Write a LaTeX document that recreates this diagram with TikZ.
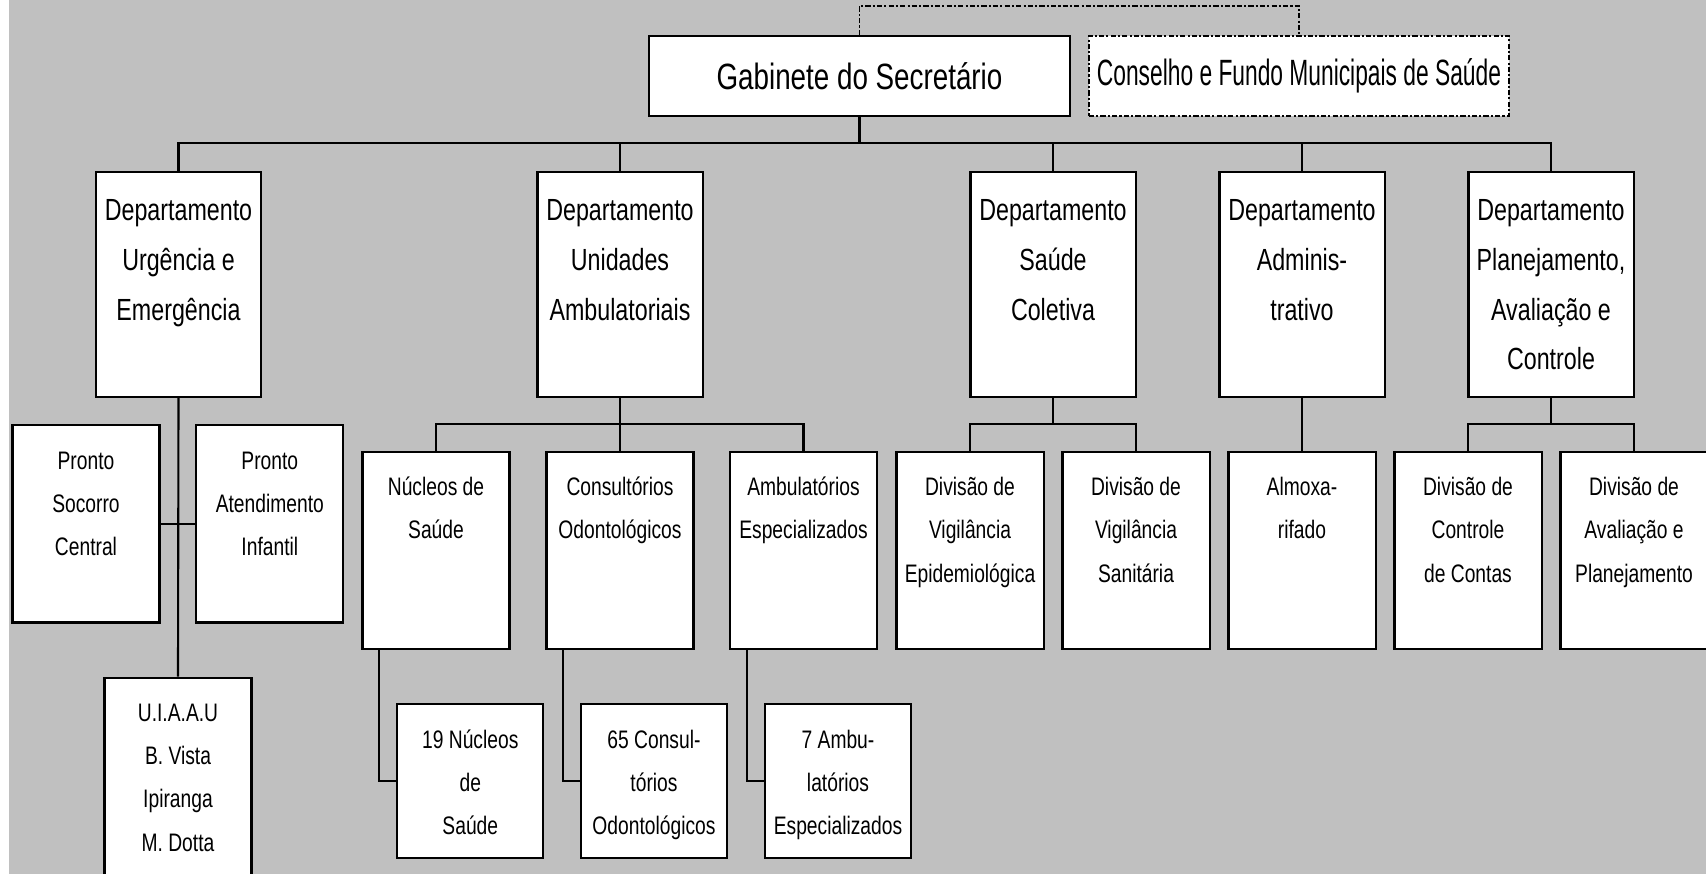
\documentclass[tikz,border=0pt]{standalone}
\usepackage{fontspec}
\setmainfont{Liberation Sans}[FakeStretch=0.76]

\definecolor{bggray}{RGB}{192,192,192}

% text inside the boxes sits at the top
\newcommand{\depttext}[1]{\parbox[c][2.25cm][t]{1.65cm}{\centering\rule{0pt}{13.8pt}#1}}
\newcommand{\subtext}[1]{\parbox[c][1.97cm][t]{1.47cm}{\centering\rule{0pt}{12.4pt}#1}}
\newcommand{\lowtext}[1]{\parbox[c][1.534cm][t]{1.46cm}{\centering\rule{0pt}{12.5pt}#1}}

\tikzset{
	box/.style={draw, fill=white, line width=0.6pt, inner sep=0pt},
	topbox/.style={box, minimum width=4.21cm, minimum height=0.8cm, font=\fontsize{10.4}{12}\selectfont},
	deptbox/.style={box, font=\fontsize{8.7}{14.2}\selectfont},
	subbox/.style={box, font=\fontsize{7.2}{12.3}\selectfont},
	link/.style={line width=0.6pt},
	dashlink/.style={line width=0.5pt, dash pattern=on 1.5pt off 0.6pt on 0.6pt off 0.6pt}
}

\begin{document}
\begin{tikzpicture}[x=0.01cm, y=-0.01cm]
				\useasboundingbox (0,0) rectangle (1706,874);
				\fill[white] (0,0) rectangle (1706,874);
				\fill[bggray] (9,0) rectangle (1706,874);

				% top
				\draw (859.5,76) node[topbox] (gabinete) {Gabinete do Secret\'ario};
				\draw (1299,76) node[topbox, dashlink, minimum width=4.2cm] (conselho) {\scalebox{0.82}[1]{Conselho e Fundo Municipais de Sa\'ude}};
				\coordinate (bus) at (859.5,143);

				% departamentos
				\draw (178.5,284.2) node[deptbox] (urgencia) {\depttext{Departamento\\ Urg\^encia e\\ Emerg\^encia}};
				\draw (620,284.2) node[deptbox] (unidades) {\depttext{Departamento\\ Unidades\\ Ambulatoriais}};
				\draw (1053,284.2) node[deptbox] (coletiva) {\depttext{Departamento\\ Sa\'ude\\ Coletiva}};
				\draw (1302,284.2) node[deptbox] (admin) {\depttext{Departamento\\ Adminis-\\ trativo}};
				\draw (1551,284.2) node[deptbox] (planej) {\depttext{Departamento\\ Planejamento,\\ Avalia\c{c}\~ao e\\ Controle}};

				% urgencia
				\draw (86,524) node[subbox] (socorro) {\subtext{Pronto\\ Socorro\\ Central}};
				\draw (269.8,524) node[subbox] (infantil) {\subtext{Pronto\\ Atendimento\\ Infantil}};
				\draw (178,776.2) node[subbox] (uiaau) {\subtext{U.I.A.A.U\\ B. Vista\\ Ipiranga\\ M. Dotta}};

				% unidades ambulatoriais
				\coordinate (ambbus) at (620,424.3);
				\draw (436,550.5) node[subbox] (nucleos) {\subtext{N\'ucleos de\\ Sa\'ude}};
				\draw (620,550.5) node[subbox] (consult) {\subtext{Consult\'orios\\ Odontol\'ogicos}};
				\draw (803.5,550.5) node[subbox] (ambesp) {\subtext{Ambulat\'orios\\ Especializados}};
				\draw (470.3,781) node[subbox] (nucleos19) {\lowtext{19 N\'ucleos\\ de\\ Sa\'ude}};
				\draw (654,781) node[subbox] (consult65) {\lowtext{65 Consul-\\ t\'orios\\ Odontol\'ogicos}};
				\draw (838,781) node[subbox] (ambesp7) {\lowtext{7 Ambu-\\ lat\'orios\\ Especializados}};

				% saude coletiva, administrativo, planejamento
				\coordinate (colbus) at (1053,424.3);
				\coordinate (planbus) at (1551,424.3);
				\draw (970,550.5) node[subbox] (epidem) {\subtext{Divis\~ao de\\ Vigil\^ancia\\ Epidemiol\'ogica}};
				\draw (1136,550.5) node[subbox] (sanit) {\subtext{Divis\~ao de\\ Vigil\^ancia\\ Sanit\'aria}};
				\draw (1302,550.5) node[subbox] (almox) {\subtext{Almoxa-\\ rifado}};
				\draw (1468,550.5) node[subbox] (contas) {\subtext{Divis\~ao de\\ Controle\\ de Contas}};
				\draw (1634,550.5) node[subbox] (avalia) {\subtext{Divis\~ao de\\ Avalia\c{c}\~ao e\\ Planejamento}};

				\draw[dashlink] (gabinete.north) -- ++(0,-29) -| (conselho.north);
				\draw[link] (gabinete.south) -- (bus);
				\draw[link] (urgencia.north) |- (bus) -| (planej.north);
				\draw[link] (unidades.north) -- (unidades.north |- bus);
				\draw[link] (coletiva.north) -- (coletiva.north |- bus);
				\draw[link] (admin.north) -- (admin.north |- bus);

				\draw[link] (urgencia.south) -- (uiaau.north);
				\draw[link] (socorro.east) -- (infantil.west);

				\draw[link] (unidades.south) -- (consult.north);
				\draw[link] (nucleos.north) |- (ambbus) -| (ambesp.north);
				\draw[link] ([xshift=0.18cm]nucleos.south west) |- (nucleos19.west);
				\draw[link] ([xshift=0.18cm]consult.south west) |- (consult65.west);
				\draw[link] ([xshift=0.18cm]ambesp.south west) |- (ambesp7.west);

				\draw[link] (coletiva.south) -- (colbus);
				\draw[link] (epidem.north) |- (colbus) -| (sanit.north);
				\draw[link] (admin.south) -- (almox.north);
				\draw[link] (planej.south) -- (planbus);
				\draw[link] (contas.north) |- (planbus) -| (avalia.north);
			\end{tikzpicture}
\end{document}
